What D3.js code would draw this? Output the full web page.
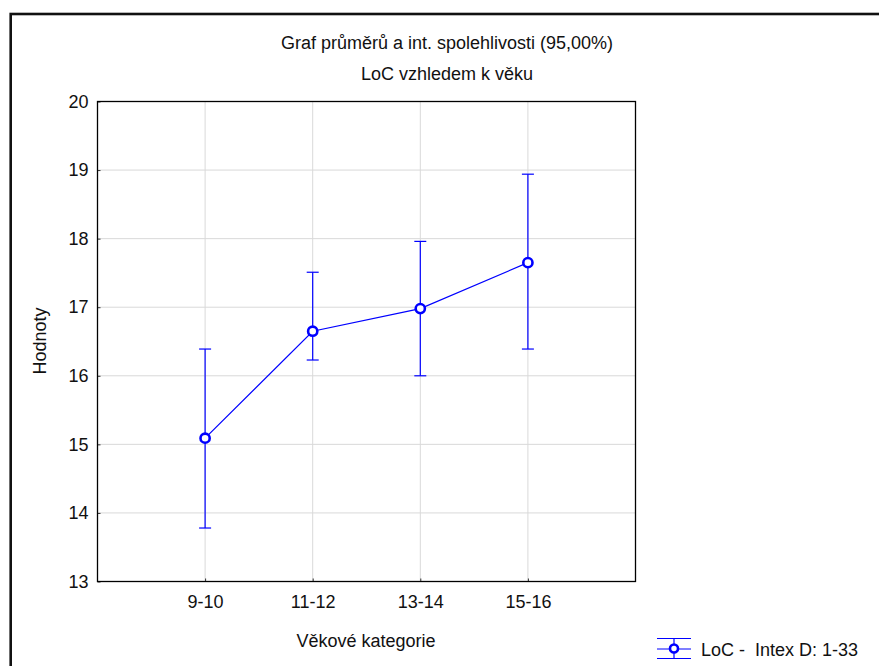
<!DOCTYPE html>
<html>
<head>
<meta charset="utf-8">
<script src="https://cdn.jsdelivr.net/npm/d3@7"></script>
<style>
  body { margin: 0; background: #fff; }
  svg { display: block; font-family: "Liberation Sans", Arial, sans-serif; }
</style>
</head>
<body>
<svg width="879" height="666"></svg>
<script>
// data
const categories = ["9-10", "11-12", "13-14", "15-16"];
const means = [15.09, 16.65, 16.98, 17.65];
const lower = [13.78, 16.23, 16.0, 16.39];
const upper = [16.39, 17.51, 17.96, 18.94];
const yTicks = [13, 14, 15, 16, 17, 18, 19, 20];

const points = categories.map((c, i) => ({ cat: c, i: i + 1, mean: means[i], lo: lower[i], hi: upper[i] }));

const PLOT = { left: 97.5, top: 101.5, right: 635.5, bottom: 581.5 };
const BLUE = "#0000ff";

const svg = d3.select("svg");

// outer frame (only top/left show in the picture)
svg.append("rect")
  .attr("x", 10.7).attr("y", 14).attr("width", 1000).attr("height", 1000)
  .attr("fill", "none").attr("stroke", "#111").attr("stroke-width", 2.6);

const x = d3.scaleLinear().domain([0, 5]).range([PLOT.left, PLOT.right]);
const y = d3.scaleLinear().domain([13, 20]).range([PLOT.bottom, PLOT.top]);

// grid
svg.append("g").selectAll("line")
  .data(yTicks.slice(1, -1))
  .enter().append("line")
  .attr("x1", PLOT.left).attr("x2", PLOT.right)
  .attr("y1", d => y(d)).attr("y2", d => y(d))
  .attr("stroke", "#d9d9d9");

svg.append("g").selectAll("line")
  .data(points)
  .enter().append("line")
  .attr("x1", d => x(d.i)).attr("x2", d => x(d.i))
  .attr("y1", PLOT.top).attr("y2", PLOT.bottom)
  .attr("stroke", "#d9d9d9");

// axes, ticks inward
svg.append("g")
  .attr("transform", `translate(${PLOT.left},0)`)
  .call(d3.axisLeft(y).tickValues(yTicks).tickFormat(d3.format("d"))
    .tickSize(-3).tickPadding(9).tickSizeOuter(0));

svg.append("g")
  .attr("transform", `translate(0,${PLOT.bottom})`)
  .call(d3.axisBottom(x).tickValues([1, 2, 3, 4]).tickFormat(d => categories[d - 1])
    .tickSize(-3).tickPadding(14).tickSizeOuter(0));

svg.selectAll(".domain").remove();
svg.selectAll(".tick line").attr("stroke", "#333");
svg.selectAll(".tick text")
  .attr("font-family", "Liberation Sans, Arial, sans-serif")
  .attr("font-size", 18).attr("fill", "#111");

// plot frame
svg.append("rect")
  .attr("x", PLOT.left).attr("y", PLOT.top)
  .attr("width", PLOT.right - PLOT.left).attr("height", PLOT.bottom - PLOT.top)
  .attr("fill", "none").attr("stroke", "#000").attr("stroke-width", 1.3);

// error bars
const eb = svg.append("g").attr("stroke", BLUE).attr("stroke-width", 1.2);
eb.selectAll(".whisker")
  .data(points).enter().append("line")
  .attr("x1", d => x(d.i)).attr("x2", d => x(d.i))
  .attr("y1", d => y(d.lo)).attr("y2", d => y(d.hi));
eb.selectAll(".capHi")
  .data(points).enter().append("line")
  .attr("x1", d => x(d.i) - 6).attr("x2", d => x(d.i) + 6)
  .attr("y1", d => y(d.hi)).attr("y2", d => y(d.hi));
eb.selectAll(".capLo")
  .data(points).enter().append("line")
  .attr("x1", d => x(d.i) - 6).attr("x2", d => x(d.i) + 6)
  .attr("y1", d => y(d.lo)).attr("y2", d => y(d.lo));

// mean line
svg.append("path")
  .datum(points)
  .attr("fill", "none").attr("stroke", BLUE).attr("stroke-width", 1.2)
  .attr("d", d3.line().x(d => x(d.i)).y(d => y(d.mean)));

svg.append("g").selectAll("circle")
  .data(points).enter().append("circle")
  .attr("cx", d => x(d.i)).attr("cy", d => y(d.mean)).attr("r", 4.6)
  .attr("fill", "#fff").attr("stroke", BLUE).attr("stroke-width", 2.6);

// titles
const txt = (t, tx, ty, anchor) => svg.append("text")
  .attr("x", tx).attr("y", ty).attr("text-anchor", anchor || "middle")
  .attr("font-size", 18).attr("fill", "#111").text(t);

txt("Graf průměrů a int. spolehlivosti (95,00%)", 447, 49);
txt("LoC vzhledem k věku", 447, 80);
txt("Věkové kategorie", 366, 647);

svg.append("text")
  .attr("transform", "translate(46,341) rotate(-90)")
  .attr("text-anchor", "middle").attr("font-size", 18).attr("fill", "#111")
  .text("Hodnoty");

// legend
const lg = svg.append("g").attr("stroke", BLUE).attr("stroke-width", 1.2);
[638.5, 649, 658.5].forEach(ly => {
  lg.append("line").attr("x1", 657).attr("x2", 691).attr("y1", ly).attr("y2", ly);
});
lg.append("line").attr("x1", 674).attr("x2", 674).attr("y1", 638.5).attr("y2", 658.5);
lg.append("circle").attr("cx", 674).attr("cy", 648.5).attr("r", 4)
  .attr("fill", "#fff").attr("stroke-width", 2.6);

svg.append("text")
  .attr("x", 701).attr("y", 655.5).attr("font-size", 18).attr("fill", "#111")
  .style("white-space", "pre")
  .text("LoC -  Intex D: 1-33");
</script>
</body>
</html>
